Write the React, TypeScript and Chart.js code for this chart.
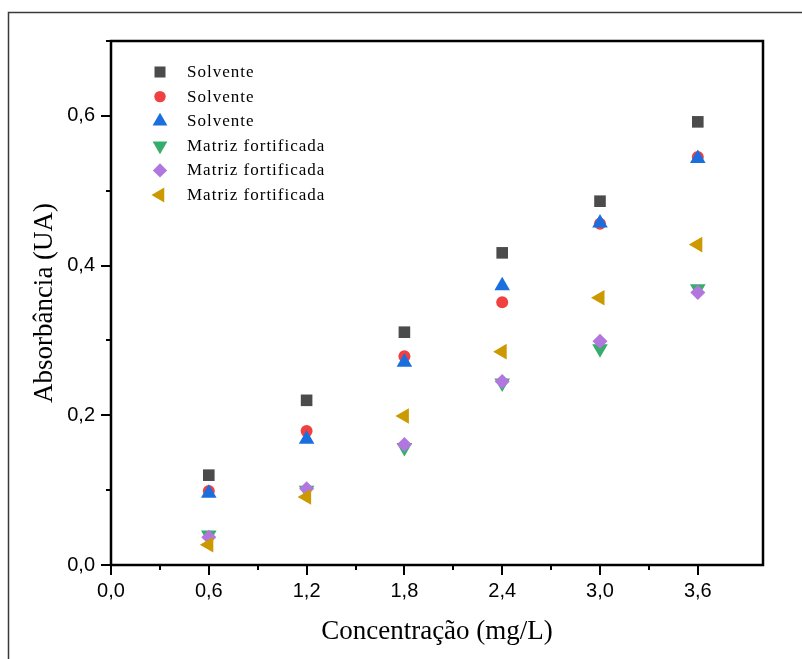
import React, { useEffect, useRef } from 'react';
import { Chart, registerables } from 'chart.js';
import { drawPoint } from 'chart.js/helpers';

Chart.register(...registerables);

const concentrations = [0.6, 1.2, 1.8, 2.4, 3.0, 3.6];
const solventeA = [0.12, 0.22, 0.311, 0.417, 0.486, 0.592];
const solventeB = [0.099, 0.179, 0.279, 0.351, 0.456, 0.545];
const solventeC = [0.096, 0.168, 0.271, 0.373, 0.457, 0.543];
const matrizA = [0.04, 0.1, 0.157, 0.243, 0.289, 0.369];
const matrizB = [0.037, 0.102, 0.161, 0.245, 0.299, 0.364];
const matrizC = [0.027, 0.091, 0.199, 0.285, 0.357, 0.428];

const seriesLabels = ['Solvente', 'Solvente', 'Solvente', 'Matriz fortificada', 'Matriz fortificada', 'Matriz fortificada'];
const seriesColors = ['#4b4b4b', '#F14040', '#1A6FDF', '#37AD6B', '#B177DE', '#CC9900'];
const seriesStyles = ['rect', 'circle', 'triangle', 'triangle', 'rectRot', 'triangle'];
const seriesRotation = [0, 0, 0, 180, 0, 270];
const seriesRadius = [8.2, 6, 9, 9, 7.5, 9];

const xTickValues = [0, 0.6, 1.2, 1.8, 2.4, 3.0, 3.6];
const yTickValues = [0, 0.2, 0.4, 0.6];

const xTitle = 'Concentração (mg/L)';
const yTitle = 'Absorbância (UA)';

const near = (a: number, b: number) => Math.abs(a - b) < 1e-6;
const fmt = (v: number) => v.toFixed(1).replace('.', ',');

const framePlugin = {
  id: 'framePlugin',
  beforeDraw(chart: any) {
    const ctx = chart.ctx;
    ctx.save();
    ctx.strokeStyle = '#3a3a3a';
    ctx.lineWidth = 1.5;
    ctx.strokeRect(8.5, 12.5, 1200, 1200);
    ctx.restore();
  },
  afterDraw(chart: any) {
    const { ctx, chartArea: a, scales } = chart;
    const xs = scales.x;
    const ys = scales.y;
    ctx.save();
    ctx.strokeStyle = '#000';
    ctx.lineWidth = 2;
    ctx.beginPath();
    xs.ticks.forEach((t: any) => {
      const v = t.value;
      if (!near(v / 0.3, Math.round(v / 0.3))) return;
      const px = Math.round(xs.getPixelForValue(v));
      const len = xTickValues.some((m) => near(m, v)) ? 10 : 5;
      ctx.moveTo(px, a.bottom);
      ctx.lineTo(px, a.bottom + len);
    });
    ys.ticks.forEach((t: any) => {
      const v = t.value;
      const py = Math.round(ys.getPixelForValue(v));
      const len = yTickValues.some((m) => near(m, v)) ? 10 : 5;
      ctx.moveTo(a.left, py);
      ctx.lineTo(a.left - len, py);
    });
    ctx.stroke();
    ctx.lineWidth = 2.5;
    ctx.strokeRect(a.left, a.top, a.right - a.left, a.bottom - a.top);

    // legend inside plot area
    ctx.font = '17px "Liberation Serif"';
    (ctx as any).letterSpacing = '1px';
    ctx.textBaseline = 'middle';
    ctx.textAlign = 'left';
    chart.data.datasets.forEach((ds: any, i: number) => {
      const cy = 72 + i * 24.6;
      ctx.fillStyle = ds.backgroundColor;
      drawPoint(ctx, { pointStyle: ds.pointStyle, rotation: ds.rotation, radius: ds.pointRadius * 0.95, borderWidth: 0 } as any, 160, cy);
      ctx.fillStyle = '#000';
      ctx.fillText(ds.label, 187, cy + 0.5);
    });
    (ctx as any).letterSpacing = '0px';
    ctx.restore();
  },
};

export default function App() {
  const ref = useRef<HTMLCanvasElement>(null);
  useEffect(() => {
    if (!ref.current) return;
    const seriesValues = [solventeA, solventeB, solventeC, matrizA, matrizB, matrizC];
    const datasets = seriesValues.map((vals, i) => ({
      label: seriesLabels[i],
      data: vals.map((v, j) => ({ x: concentrations[j], y: v })),
      backgroundColor: seriesColors[i],
      borderColor: seriesColors[i],
      borderWidth: 0,
      pointStyle: seriesStyles[i],
      rotation: seriesRotation[i],
      pointRadius: seriesRadius[i],
      pointHoverRadius: seriesRadius[i],
      order: 5 - i,
    }));
    const chart = new Chart(ref.current, {
      type: 'scatter',
      data: { datasets },
      options: {
        animation: false,
        responsive: false,
        devicePixelRatio: 1,
        layout: { padding: { left: 0, top: 41, right: 39, bottom: 0 } },
        plugins: { legend: { display: false }, tooltip: { enabled: false } },
        scales: {
          x: {
            type: 'linear',
            min: 0,
            max: 4.0,
            grid: { display: false, drawTicks: false },
            border: { display: false },
            ticks: {
              stepSize: 0.3,
              autoSkip: false,
              maxRotation: 0,
              padding: 14,
              color: '#000',
              font: { family: '"Liberation Sans"', size: 20 },
              callback: (v: any) => (xTickValues.some((m) => near(m, Number(v))) ? fmt(Number(v)) : ''),
            },
            title: {
              display: true,
              text: xTitle,
              color: '#000',
              font: { family: '"Liberation Serif"', size: 27 },
              padding: { top: 0, bottom: 11 },
            },
            afterFit: (s: any) => {
              s.height = 94;
            },
          },
          y: {
            type: 'linear',
            min: 0,
            max: 0.7,
            grid: { display: false, drawTicks: false },
            border: { display: false },
            ticks: {
              stepSize: 0.1,
              autoSkip: false,
              padding: 16,
              color: '#000',
              font: { family: '"Liberation Sans"', size: 20 },
              callback: (v: any) => (yTickValues.some((m) => near(m, Number(v))) ? fmt(Number(v)) : ''),
            },
            title: {
              display: true,
              text: yTitle,
              color: '#000',
              font: { family: '"Liberation Serif"', size: 27 },
              padding: { top: 29, bottom: 0 },
            },
            afterFit: (s: any) => {
              s.width = 111;
            },
          },
        },
      },
      plugins: [framePlugin],
    } as any);
    return () => chart.destroy();
  }, []);
  return (
    <div style={{ position: 'fixed', left: 0, top: 0, width: 802, height: 659, background: '#fff' }}>
      <canvas ref={ref} width={802} height={659} style={{ width: 802, height: 659, display: 'block' }} />
    </div>
  );
}
